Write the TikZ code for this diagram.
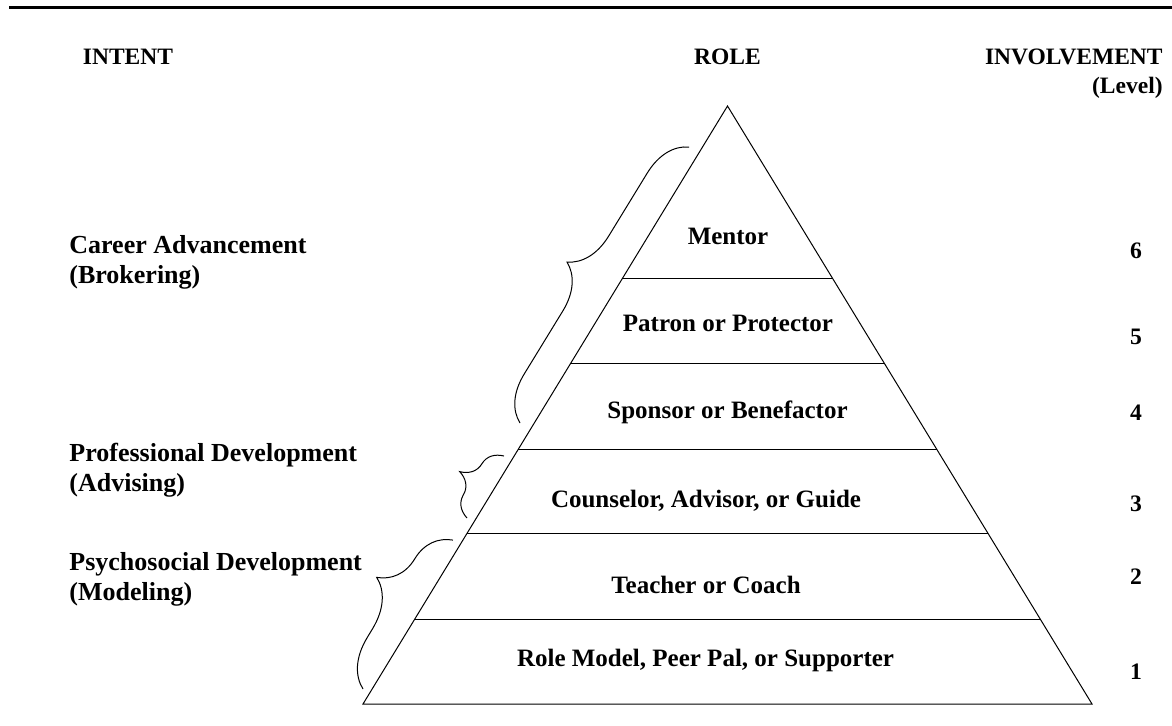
\documentclass[tikz,border=0pt]{standalone}
\usepackage{fontspec}
\setmainfont{Liberation Serif}
\usetikzlibrary{decorations.pathreplacing}

\tikzset{
    head/.style={font=\fontsize{11.75}{14.5}\selectfont\bfseries, inner sep=0pt},
    intent/.style={font=\fontsize{13}{15}\selectfont\bfseries, align=left, inner sep=0pt, anchor=base west},
    role/.style={font=\fontsize{12.5}{15}\selectfont\bfseries, inner sep=0pt, anchor=base},
    level/.style={font=\fontsize{11.8}{14}\selectfont\bfseries, inner sep=0pt},
    tier/.style={line width=0.5pt},
    span/.style={decorate, decoration={brace, amplitude=#1}, line width=0.5pt},
    span/.default=22pt
}

\begin{document}
\begin{tikzpicture}[x=0.5pt, y=-0.5pt]
    \useasboundingbox (0, 0) rectangle (1172, 725);
    \draw[line width=1.1pt] (9, 7.5) -- (1172, 7.5);

    % column heads (base = last line)
    \node[head, anchor=base] (hint) at (128, 64) {INTENT};
    \node[head, anchor=base] (hrole) at (727.5, 64) {ROLE};
    \node[head, anchor=base east, align=right] (hinv) at (1163, 93) {INVOLVEMENT\\(Level)};

    % pyramid
    \coordinate (apex) at (727.5, 106);
    \coordinate (bl) at (363, 704);
    \coordinate (br) at (1092, 704);
    \draw[tier] (apex) -- (bl) -- (br) -- cycle;
    \draw[tier] (622.7, 278) -- (832.3, 278);
    \draw[tier] (570.9, 363) -- (884.1, 363);
    \draw[tier] (518.4, 449) -- (936.6, 449);
    \draw[tier] (467.2, 533) -- (987.8, 533);
    \draw[tier] (414.8, 619) -- (1040.2, 619);

    \node[role] (r6) at (728, 244) {Mentor};
    \node[role] (r5) at (728, 331) {Patron or Protector};
    \node[role] (r4) at (727.5, 418) {Sponsor or Benefactor};
    \node[role] (r3) at (706, 507) {Counselor, Advisor, or Guide};
    \node[role] (r2) at (706, 593) {Teacher or Coach};
    \node[role] (r1) at (705.5, 666) {Role Model, Peer Pal, or Supporter};

    % levels
    \node[level] (l6) at (1136, 251) {6};
    \node[level] (l5) at (1136, 337) {5};
    \node[level] (l4) at (1136, 413) {4};
    \node[level] (l3) at (1136, 504) {3};
    \node[level] (l2) at (1136, 577) {2};
    \node[level] (l1) at (1136, 672) {1};

    % intents and their braces
    \node[intent] (career) at (69, 283) {Career Advancement\\(Brokering)};
    \node[intent] (prof) at (69, 491) {Professional Development\\(Advising)};
    \node[intent] (psych) at (69, 600) {Psychosocial Development\\(Modeling)};

    \draw[span=22pt] (520, 423) -- (689, 147);
    \draw[span=15pt] (467, 518) -- (504, 456);
    \draw[span=23pt, decoration={aspect=0.59}] (363, 689) -- (453, 540);
\end{tikzpicture}
\end{document}
